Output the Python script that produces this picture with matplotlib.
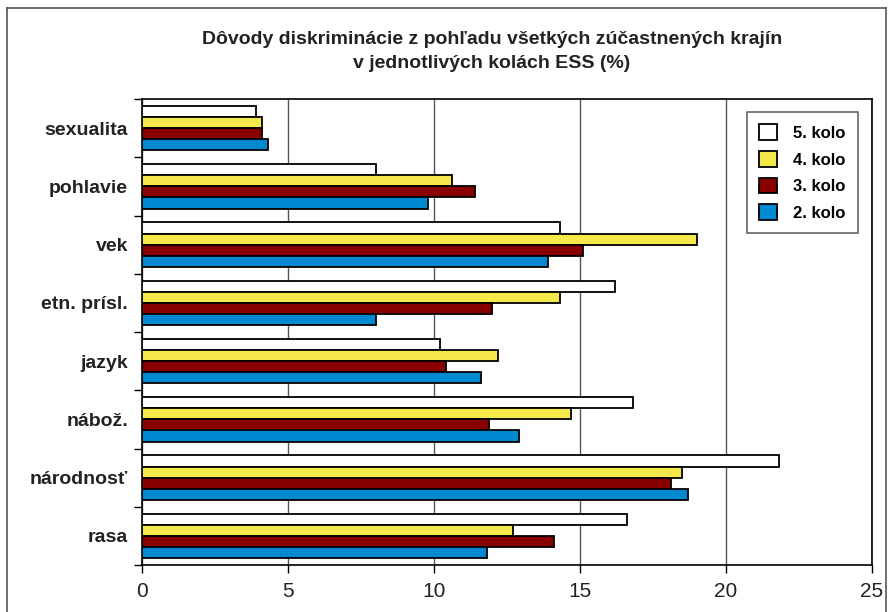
# Discrimination reasons across ESS rounds, horizontal grouped bars.

import numpy as np
import matplotlib.pyplot as plt
from matplotlib.lines import Line2D

plt.rcParams['font.family'] = ['Liberation Sans', 'DejaVu Sans']

# Data (top to bottom).
categories = ['sexualita', 'pohlavie', 'vek', 'etn. prísl.', 'jazyk',
              'nábož.', 'národnosť', 'rasa']
kolo5 = [3.9, 8.0, 14.3, 16.2, 10.2, 16.8, 21.8, 16.6]
kolo4 = [4.1, 10.6, 19.0, 14.3, 12.2, 14.7, 18.5, 12.7]
kolo3 = [4.1, 11.4, 15.1, 12.0, 10.4, 11.9, 18.1, 14.1]
kolo2 = [4.3, 9.8, 13.9, 8.0, 11.6, 12.9, 18.7, 11.8]

series = [kolo5, kolo4, kolo3, kolo2]
labels = ['5. kolo', '4. kolo', '3. kolo', '2. kolo']
colors = ['#ffffff', '#f5e84a', '#880000', '#0088d0']

fig = plt.figure(figsize=(8.93, 6.12), dpi=100)
ax = fig.add_axes([142 / 893, 1 - 565 / 612, 730 / 893, 466 / 612])

y = np.arange(len(categories))
h = 0.19
for i, (vals, lab, col) in enumerate(zip(series, labels, colors)):
    ax.barh(y + (i - 1.5) * h, vals, height=h, color=col, edgecolor='black',
            linewidth=1.3, label=lab, zorder=3)

ax.set_xlim(0, 25)
ax.set_ylim(len(categories) - 0.5, -0.5)
ax.set_xticks([0, 5, 10, 15, 20, 25])
ax.set_yticks(np.arange(len(categories) + 1) - 0.5, minor=False)
ax.set_yticklabels([])
ax.set_yticks(y, minor=True)
ax.set_yticklabels(categories, minor=True, fontsize=14, fontweight='bold',
                   color='#222222')
ax.tick_params(axis='y', which='minor', length=0, pad=10)
ax.tick_params(axis='y', which='major', length=6, width=1)
ax.tick_params(axis='x', length=6, width=1, labelsize=15, pad=6,
               labelcolor='#222222')

ax.grid(axis='x', color='#555555', linewidth=1, zorder=0)
for s in ax.spines.values():
    s.set_color('black')
    s.set_linewidth(1.2)

leg = ax.legend(loc='upper right', bbox_to_anchor=(858 / 893, 1 - 112 / 612),
                bbox_transform=fig.transFigure, fancybox=False,
                edgecolor='#666666', framealpha=1, borderpad=0.75,
                borderaxespad=0, labelspacing=0.6, handlelength=1.08,
                handleheight=1.08, handletextpad=0.95,
                prop={'weight': 'bold', 'size': 12})
leg.get_frame().set_linewidth(1.2)

fig.text(0.551, 1 - 40 / 612, 'Dôvody diskriminácie z pohľadu všetkých zúčastnených krajín',
         ha='center', va='center', fontsize=14, fontweight='bold', color='#222222')
fig.text(0.551, 1 - 63 / 612, 'v jednotlivých kolách ESS (%)',
         ha='center', va='center', fontsize=14, fontweight='bold', color='#222222')

# Outer frame around the whole chart.
x0, x1, y0 = 7 / 893, 886 / 893, 1 - 8 / 612
for xs, ys in [([x0, x1], [y0, y0]), ([x0, x0], [y0, 0]), ([x1, x1], [y0, 0])]:
    fig.add_artist(Line2D(xs, ys, color='#555555', linewidth=1.2))

fig.savefig('out.png', dpi=100)
